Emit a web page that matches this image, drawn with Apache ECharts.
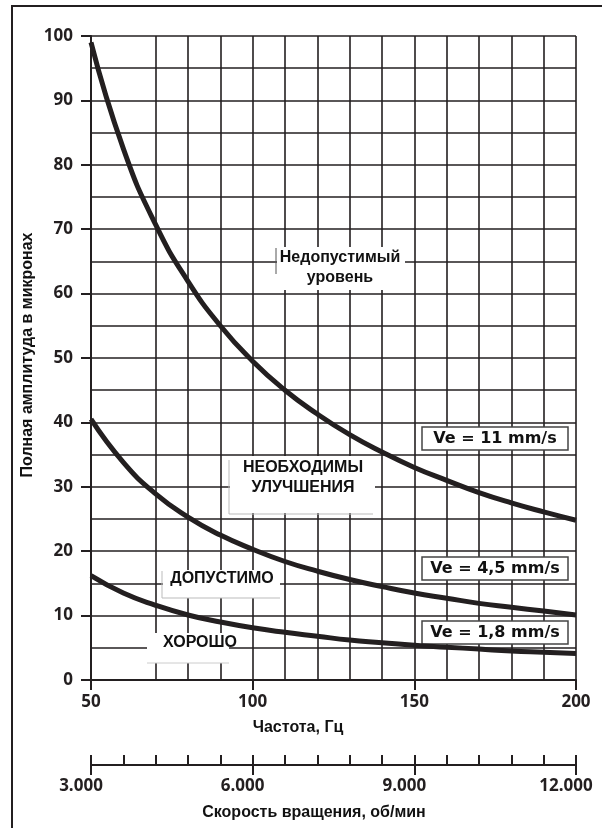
<!DOCTYPE html>
<html><head><meta charset="utf-8">
<script src="https://cdn.jsdelivr.net/npm/echarts@6/dist/echarts.min.js"></script>
<style>html,body{margin:0;padding:0;background:#fff}#c{width:602px;height:828px}</style>
</head><body><div id="c"></div>
<script>
// ---- data ----
const freqHz = [50, 60, 70, 80, 90, 100, 110, 120, 130, 140, 150, 160, 170, 180, 190, 200];
const ve11 = [99, 82.5, 70.7, 61.9, 55, 49.5, 45, 41.3, 38.1, 35.4, 33, 31, 29.1, 27.5, 26.1, 24.8];
const ve45 = [40.5, 33.8, 28.9, 25.3, 22.5, 20.3, 18.4, 16.9, 15.6, 14.5, 13.5, 12.7, 11.9, 11.3, 10.7, 10.1];
const ve18 = [16.2, 13.5, 11.6, 10.1, 9.0, 8.1, 7.4, 6.8, 6.2, 5.8, 5.4, 5.1, 4.8, 4.5, 4.3, 4.1];
const gridFreqs = [70, 80, 90, 100, 110, 120, 130, 140, 150, 160, 170, 180, 190, 200];
const seriesNames = ['Ve = 11 mm/s', 'Ve = 4,5 mm/s', 'Ve = 1,8 mm/s'];
const zoneLabels = ['Недопустимый\nуровень', 'НЕОБХОДИМЫ\nУЛУЧШЕНИЯ', 'ДОПУСТИМО', 'ХОРОШО'];
const yTitle = 'Полная амплитуда в микронах';
const xTitle = 'Частота, Гц';
const rpmTitle = 'Скорость вращения, об/мин';

const INK = '#231f20';
const numFont = {fontFamily: 'Open Sans', fontWeight: 'bold', fontSize: 17, color: INK};
const lblFont = 'bold 16px "Liberation Sans", Arial, sans-serif';
const veFont = 'bold 16px "DejaVu Sans", sans-serif';

const chart = echarts.init(document.getElementById('c'), null, {renderer: 'canvas'});

function pair(vals) { return freqHz.map((f, i) => [f, vals[i]]); }
function curve(name, vals) {
  return {
    name, type: 'line', data: pair(vals), smooth: true, showSymbol: false, symbol: 'none',
    lineStyle: {color: INK, width: 5}, z: 5, silent: true, animation: false
  };
}
function whiteBox(x, y, w, h) {
  return {type: 'rect', shape: {x, y, width: w, height: h}, style: {fill: '#fff'}, z: 3};
}
function edge(points, color) {
  return {type: 'polyline', shape: {points}, style: {stroke: color, lineWidth: 1, fill: null}, z: 4};
}
function txt(text, x, y, font) {
  return {type: 'text', x, y, z: 4,
    style: {text, font, fill: '#111', align: 'center', verticalAlign: 'middle', lineHeight: 20}};
}
function veBox(text, y) {
  return [
    {type: 'rect', shape: {x: 422, y, width: 146, height: 23}, style: {fill: '#fff', stroke: '#444', lineWidth: 1.5}, z: 3},
    txt(text, 495, y + 12, veFont)
  ];
}

const option = {
  animation: false,
  backgroundColor: '#fff',
  grid: [
    {left: 91, top: 36, width: 485, height: 644},
    {left: 91, top: 755, width: 485, height: 10},
    {left: 91, top: 755, width: 485, height: 20}
  ],
  xAxis: [
    {
      gridIndex: 0, type: 'value', min: 50, max: 200, interval: 50,
      axisLine: {show: true, onZero: false, lineStyle: {color: INK, width: 2}},
      axisTick: {show: true, inside: false, length: 10, lineStyle: {color: INK, width: 2}},
      axisLabel: Object.assign({margin: 14}, numFont),
      splitLine: {show: false}
    },
    {
      gridIndex: 1, type: 'value', min: 3000, max: 12000, interval: 600,
      axisLine: {show: true, onZero: false, lineStyle: {color: INK, width: 2}},
      axisTick: {show: true, inside: true, length: 10, lineStyle: {color: INK, width: 2}},
      axisLabel: {show: false},
      splitLine: {show: false}
    },
    {
      gridIndex: 2, type: 'value', min: 3000, max: 12000, interval: 3000,
      axisLine: {show: false}, axisTick: {show: false},
      axisLabel: Object.assign({margin: 3, padding: [0, 20, 0, 0],
        formatter: v => String(v).replace(/(\d)(?=(\d{3})+$)/g, '$1.')}, numFont),
      splitLine: {show: true, lineStyle: {color: INK, width: 2}}
    }
  ],
  yAxis: [
    {
      gridIndex: 0, type: 'value', min: 0, max: 100, interval: 10,
      axisLine: {show: true, onZero: false, lineStyle: {color: INK, width: 2}},
      axisTick: {show: true, inside: false, length: 10, lineStyle: {color: INK, width: 2}},
      axisLabel: Object.assign({margin: 18}, numFont),
      splitLine: {show: true, lineStyle: {color: INK, width: 1.6}},
      minorTick: {show: false, splitNumber: 2},
      minorSplitLine: {show: true, lineStyle: {color: INK, width: 1.6}}
    },
    {gridIndex: 1, type: 'value', show: false, min: 0, max: 1},
    {gridIndex: 2, type: 'value', show: false, min: 0, max: 1}
  ],
  series: [
    {
      type: 'line', data: [], z: 0, silent: true,
      markLine: {
        silent: true, symbol: 'none', z: 0, animation: false,
        label: {show: false},
        lineStyle: {color: INK, width: 1.6, type: 'solid'},
        data: gridFreqs.map(f => ({xAxis: f}))
      }
    },
    curve(seriesNames[0], ve11),
    curve(seriesNames[1], ve45),
    curve(seriesNames[2], ve18)
  ],
  graphic: [
    {type: 'polyline', shape: {points: [[12, 830], [12, 6], [604, 6]]}, style: {stroke: INK, lineWidth: 2, fill: null}, z: 6},
    // zone boxes
    whiteBox(277, 247, 128, 43),
    edge([[276, 248], [276, 274]], '#555'),
    txt(zoneLabels[0], 340, 268, lblFont),
    whiteBox(230, 456, 145, 57),
    edge([[229, 460], [229, 514], [373, 514]], '#bbb'),
    txt(zoneLabels[1], 303, 478, lblFont),
    whiteBox(163, 570, 117, 28),
    edge([[162, 571], [162, 598], [280, 598]], '#bbb'),
    txt(zoneLabels[2], 222, 579, lblFont),
    whiteBox(147, 633, 82, 30),
    edge([[147, 663], [229, 663]], '#ccc'),
    txt(zoneLabels[3], 200, 643, lblFont),
    ...veBox(seriesNames[0], 427),
    ...veBox(seriesNames[1], 557),
    ...veBox(seriesNames[2], 621),
    // titles
    {type: 'text', x: 28, y: 355, rotation: Math.PI / 2, z: 4,
      style: {text: yTitle, font: lblFont, fill: '#111', align: 'center', verticalAlign: 'middle'}},
    txt(xTitle, 298, 728, lblFont),
    txt(rpmTitle, 314, 813, lblFont)
  ]
};
chart.setOption(option);
</script>
</body></html>
